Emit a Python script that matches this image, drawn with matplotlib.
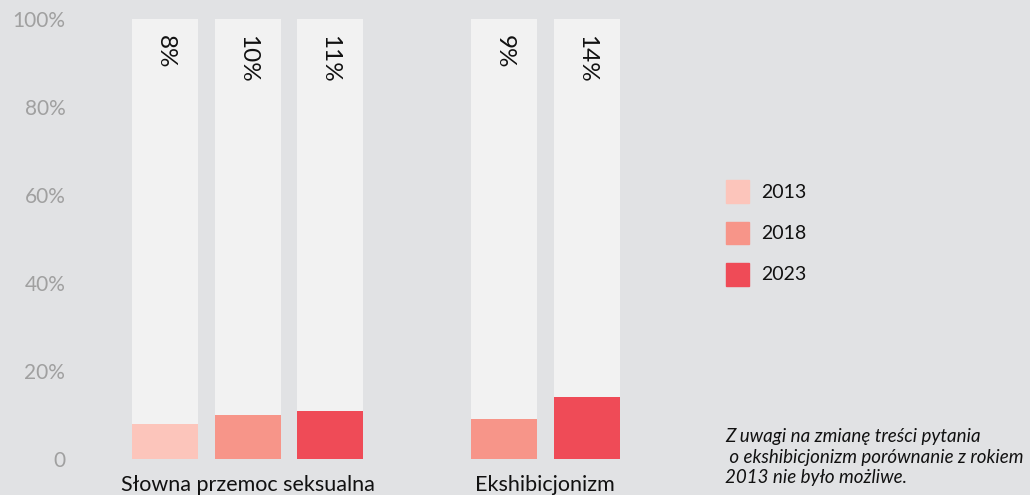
import matplotlib.pyplot as plt
import numpy as np

categories = ["Słowna przemoc seksualna", "Ekshibicjonizm"]
years = ["2013", "2018", "2023"]
values = {
    "2013": [8, None],
    "2018": [10, 9],
    "2023": [11, 14],
}
colors = {"2013": "#fcc5bb", "2018": "#f79589", "2023": "#ef4b57"}
yticks = [0, 20, 40, 60, 80, 100]
ytick_labels = ["0", "20%", "40%", "60%", "80%", "100%"]
note = "Z uwagi na zmianę treści pytania\n o ekshibicjonizm porównanie z rokiem\n2013 nie było możliwe."

plt.rcParams['font.family'] = ['Lato', 'DejaVu Sans']
bg = "#e1e2e4"
W, H = 1030, 495
fig = plt.figure(figsize=(W / 100, H / 100), dpi=100, facecolor=bg)
ax = fig.add_axes([75 / W, 36 / H, 600 / W, 440 / H])
ax.set_facecolor(bg)

step = 82.5
# middle slot of each group (2018); 2013 slot of the second group stays empty
group_centers = [1, (504 - 165) / step]
ax.set_xlim((75 - 165) / step, (675 - 165) / step)
ax.set_ylim(0, 100)

bw = 66 / step
for gi, cat in enumerate(categories):
    present = []
    for yi, yr in enumerate(years):
        v = values[yr][gi]
        if v is None:
            continue
        x = group_centers[gi] + (yi - 1)
        present.append(x)
        ax.bar(x, 100, width=bw, color="#f2f2f2", zorder=1)
        ax.bar(x, v, width=bw, color=colors[yr], zorder=2)
        ax.text(x, 96.3, f"{v}%", rotation=-90, ha="center", va="top",
                fontsize=17.5, color="#111111", zorder=3)
    ax.text(np.mean(present), -6, cat, ha="center", va="center",
            fontsize=15.5, color="#111111", clip_on=False)

ax.set_yticks(yticks)
ax.set_yticklabels(ytick_labels, fontsize=15, color="#a0a0a0")
ax.tick_params(axis="y", length=0, pad=7)
ax.set_xticks([])
for s in ax.spines.values():
    s.set_visible(False)

# legend
for i, yr in enumerate(years):
    top = 180 + i * 41.5
    fig.patches.append(plt.Rectangle((726 / W, 1 - (top + 23) / H), 23 / W, 23 / H,
                                     transform=fig.transFigure, color=colors[yr]))
    fig.text(761 / W, 1 - (top + 12) / H, yr, fontsize=14, va="center", color="#111111")

fig.text(725 / W, 1 - 457 / H, note, fontsize=13.5, style="italic", va="center",
         linespacing=1.22, color="#111111")
fig.savefig("out.png", dpi=100, facecolor=bg)
